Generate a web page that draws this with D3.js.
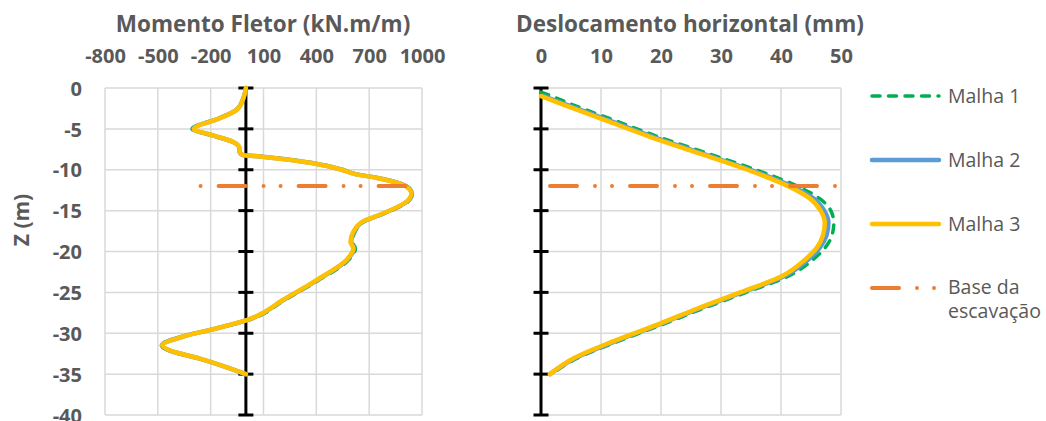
<!DOCTYPE html>
<html>
<head>
<meta charset="utf-8">
<script src="https://cdn.jsdelivr.net/npm/d3@7"></script>
<style>
  html, body { margin: 0; padding: 0; background: #fff; }
  svg { display: block; }
  text { font-family: 'Open Sans', 'Noto Sans', sans-serif; fill: #595959; }
</style>
</head>
<body>
<svg id="chart" width="1046" height="421"></svg>
<script>
// ---- data ----
const depthTicks = [0, -5, -10, -15, -20, -25, -30, -35, -40];
const momentTicks = [-800, -500, -200, 100, 400, 700, 1000];
const dispTicks = [0, 10, 20, 30, 40, 50];

// bending moment along the wall (kN.m/m) vs depth (m)
const momentDepth = [0, -1.3, -2.7, -3.7, -5, -5.8, -6.6, -7.2, -7.9, -8.2, -8.4, -9.2, -10, -10.5, -11, -11.7, -12.3, -12.9, -13.9, -15.5, -16.3, -17.6, -18.8, -19.6, -21, -23.5, -25.9, -28.4, -29.4, -30.4, -31.5, -32.1, -33.1, -35];
const momentMalha1 = [0, -16, -56, -155, -306, -193, -76, -41, -38, -18, 92, 385, 549, 620, 752, 882, 932, 946, 920, 770, 676, 620, 604, 622, 585, 414, 222, 12, -162, -360, -484, -440, -266, 0];
const momentMalha2 = [0, -15, -54, -150, -298, -188, -73, -39, -35, -16, 96, 383, 547, 617, 748, 878, 928, 943, 915, 764, 670, 613, 597, 614, 576, 405, 215, 6, -165, -358, -478, -435, -263, 0];
const momentMalha3 = [0, -15, -53, -148, -295, -186, -72, -38, -34, -15, 90, 382, 545, 615, 745, 875, 925, 940, 912, 761, 667, 610, 594, 610, 572, 401, 212, 4, -166, -356, -475, -432, -261, 0];

// horizontal displacement (mm) vs depth (m)
const dispDepth = [-0.5, -1, -2, -4, -6, -8, -10, -12, -13.5, -15, -16.5, -18, -19.5, -21, -23, -25, -27, -29, -31, -33, -35];
const dispMalha1 = [0, 1.8, 5.1, 12.4, 19.7, 27.8, 35.8, 42.7, 46.4, 48.3, 48.8, 48.5, 47.4, 45.3, 41.3, 34.2, 26.9, 20.0, 12.8, 6.2, 1.7];
const dispMalha2 = [null, 0.4, 4.1, 11.4, 18.8, 26.8, 34.8, 41.7, 45.4, 47.2, 47.9, 47.6, 46.5, 44.5, 40.6, 33.5, 26.3, 19.4, 12.3, 5.8, 1.5];
const dispMalha3 = [null, 0, 3.6, 10.9, 18.3, 26.4, 34.4, 41.2, 44.8, 46.6, 47.3, 47.0, 46.0, 44.0, 40.2, 33.2, 26.0, 19.2, 12.0, 5.6, 1.5];

// excavation base level
const baseDepth = -12;
const baseMomentRange = [-280, 1000];
const baseDispRange = [0, 50];

const seriesNames = ['Malha 1', 'Malha 2', 'Malha 3', 'Base da escavação'];

// ---- styles ----
const styles = {
  'Malha 1': { color: '#00B050', width: 3.5, dash: '8,8.5', cap: 'round' },
  'Malha 2': { color: '#5B9BD5', width: 4.5, dash: null, cap: 'round' },
  'Malha 3': { color: '#FFC000', width: 4.5, dash: null, cap: 'round' },
  'Base da escavação': { color: '#ED7D31', width: 4, dash: '27,18,0,17,0,18', cap: 'round' }
};

const fmt = d => String(d);   // plain hyphen for negatives

const svg = d3.select('#chart');
svg.append('rect').attr('width', 1046).attr('height', 421).attr('fill', '#fff');

const y = d3.scaleLinear().domain([0, -40]).range([88, 415]);
const xMoment = d3.scaleLinear().domain([-800, 1000]).range([105, 422]);
const xDisp = d3.scaleLinear().domain([0, 50]).range([541, 841]);

function drawPanel(x, ticks, title, titleX) {
  const g = svg.append('g');
  // grid
  g.selectAll('.vg').data(ticks).join('line')
    .attr('x1', d => x(d)).attr('x2', d => x(d))
    .attr('y1', y(0)).attr('y2', y(-40))
    .attr('stroke', '#D9D9D9').attr('stroke-width', 1.5);
  g.selectAll('.hg').data(depthTicks).join('line')
    .attr('x1', x.range()[0]).attr('x2', x.range()[1])
    .attr('y1', d => y(d)).attr('y2', d => y(d))
    .attr('stroke', '#D9D9D9').attr('stroke-width', 1.5);
  // top tick labels
  const ax = d3.axisTop(x).tickValues(ticks).tickSize(0).tickPadding(0).tickFormat(fmt);
  const axg = g.append('g').attr('transform', 'translate(0,63)').call(ax);
  axg.select('.domain').remove();
  axg.selectAll('text')
    .attr('font-family', "'Open Sans', sans-serif")
    .attr('font-size', 20).attr('font-weight', 700)
    .attr('fill', '#595959').attr('dy', 0);
  // vertical zero axis with cross ticks
  const x0 = x(0);
  g.append('line').attr('x1', x0).attr('x2', x0).attr('y1', y(0)).attr('y2', y(-40))
    .attr('stroke', '#000').attr('stroke-width', 3);
  g.selectAll('.tk').data(depthTicks).join('line')
    .attr('x1', x0 - 7.5).attr('x2', x0 + 7.5)
    .attr('y1', d => y(d)).attr('y2', d => y(d))
    .attr('stroke', '#000').attr('stroke-width', 3);
  // title
  g.append('text').attr('x', titleX).attr('y', 32)
    .attr('text-anchor', 'middle').attr('font-size', 22.5).attr('font-weight', 700)
    .text(title);
  return g;
}

const gL = drawPanel(xMoment, momentTicks, 'Momento Fletor (kN.m/m)', 263);
const gR = drawPanel(xDisp, dispTicks, 'Deslocamento horizontal (mm)', 690);

// depth labels (left)
const yAxis = d3.axisLeft(y).tickValues(depthTicks).tickSize(0).tickPadding(0).tickFormat(fmt);
const yg = svg.append('g').attr('transform', 'translate(82,0)').call(yAxis);
yg.select('.domain').remove();
yg.selectAll('text')
  .attr('font-family', "'Open Sans', sans-serif")
  .attr('font-size', 20).attr('font-weight', 700).attr('fill', '#595959')
  .attr('dy', '0.36em');

svg.append('text').attr('transform', 'translate(29,220) rotate(-90)')
  .attr('text-anchor', 'middle').attr('font-size', 21).attr('font-weight', 700)
  .text('Z (m)');

function drawSeries(g, x, depth, values, name) {
  const st = styles[name];
  const pts = depth.map((z, i) => ({ z, v: values[i] }));
  const line = d3.line()
    .defined(d => d.v != null)
    .x(d => x(d.v)).y(d => y(d.z))
    .curve(d3.curveMonotoneY);
  g.append('path').datum(pts)
    .attr('d', line)
    .attr('fill', 'none')
    .attr('stroke', st.color)
    .attr('stroke-width', st.width)
    .attr('stroke-linecap', st.cap)
    .attr('stroke-linejoin', 'round')
    .attr('stroke-dasharray', st.dash);
}

function drawBase(g, x, range, offset) {
  const st = styles['Base da escavação'];
  g.append('line')
    .attr('x1', x(range[0])).attr('x2', x(range[1]))
    .attr('y1', y(baseDepth)).attr('y2', y(baseDepth))
    .attr('stroke', st.color).attr('stroke-width', st.width)
    .attr('stroke-linecap', st.cap)
    .attr('stroke-dasharray', st.dash)
    .attr('stroke-dashoffset', offset);
}

drawSeries(gL, xMoment, momentDepth, momentMalha1, 'Malha 1');
drawSeries(gL, xMoment, momentDepth, momentMalha2, 'Malha 2');
drawSeries(gL, xMoment, momentDepth, momentMalha3, 'Malha 3');
drawBase(gL, xMoment, baseMomentRange, 58);

drawSeries(gR, xDisp, dispDepth, dispMalha1, 'Malha 1');
drawSeries(gR, xDisp, dispDepth, dispMalha2, 'Malha 2');
drawSeries(gR, xDisp, dispDepth, dispMalha3, 'Malha 3');
drawBase(gR, xDisp, baseDispRange, 71);

// legend
const legendRows = [96, 160, 224, 288];
const legendLabels = [['Malha 1'], ['Malha 2'], ['Malha 3'], ['Base da', 'escavação']];
const lg = svg.append('g');
seriesNames.forEach((name, i) => {
  const st = styles[name];
  const yy = legendRows[i];
  lg.append('line')
    .attr('x1', 872).attr('x2', name === 'Base da escavação' ? 936 : 939)
    .attr('y1', yy).attr('y2', yy)
    .attr('stroke', st.color).attr('stroke-width', st.width)
    .attr('stroke-linecap', st.cap)
    .attr('stroke-dasharray', st.dash);
  const n = legendLabels[i].length;
  legendLabels[i].forEach((label, j) => {
    lg.append('text').attr('x', 948).attr('y', yy + j * 23.5 - (n > 1 ? 1 : 0))
      .attr('dy', '0.36em')
      .attr('font-size', 19.5).attr('font-weight', 400)
      .text(label);
  });
});
</script>
</body>
</html>
